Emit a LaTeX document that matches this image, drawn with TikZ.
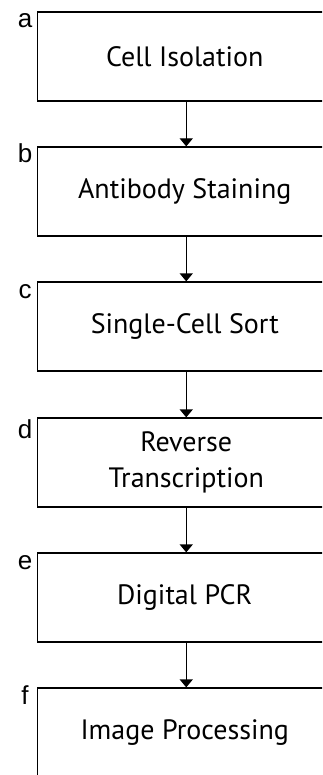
\documentclass[tikz,border=0pt]{standalone}
\usepackage{fontspec}
\setmainfont{PT Sans}
\newfontfamily\labfont{Liberation Sans}
\usetikzlibrary{arrows.meta}
\begin{document}
\begin{tikzpicture}[x=1pt,y=-1pt,
  stepbox/.style={draw, line width=1.2pt, minimum width=297.5pt, minimum height=89pt,
    inner sep=0pt, align=center, font=\fontsize{28}{36}\selectfont},
  lab/.style={anchor=base, font=\labfont\fontsize{26}{26}\selectfont},
  flow/.style={line width=1.2pt, -{Triangle[width=13pt,length=8pt]}}]
\useasboundingbox (0,0) rectangle (322,775);
\clip (0,0) rectangle (322,775);
\fill[white] (0,0) rectangle (322,775);
\node[stepbox] (a) at (186.25,56.5) {Cell Isolation\hspace*{3pt}};
\node[stepbox] (b) at (186.25,191.5) {Antibody Staining\hspace*{3pt}};
\node[stepbox] (c) at (186.25,326.5) {Single-Cell Sort\hspace*{3pt}};
\node[stepbox] (d) at (186.25,462.5) {Reverse\\Transcription};
\node[stepbox] (e) at (186.25,597.5) {Digital PCR\hspace*{3pt}};
\node[stepbox] (f) at (186.25,732.5) {Image Processing\hspace*{3pt}};
\node[lab] (la) at (25,28) {a};
\node[lab] (lb) at (25,163) {b};
\node[lab] (lc) at (25,298) {c};
\node[lab] (ld) at (25,438) {d};
\node[lab] (le) at (25,569) {e};
\node[lab] (lf) at (25,704) {f};
\draw[flow] (a) -- (b);
\draw[flow] (b) -- (c);
\draw[flow] (c) -- (d);
\draw[flow] (d) -- (e);
\draw[flow] (e) -- (f);
\end{tikzpicture}
\end{document}
